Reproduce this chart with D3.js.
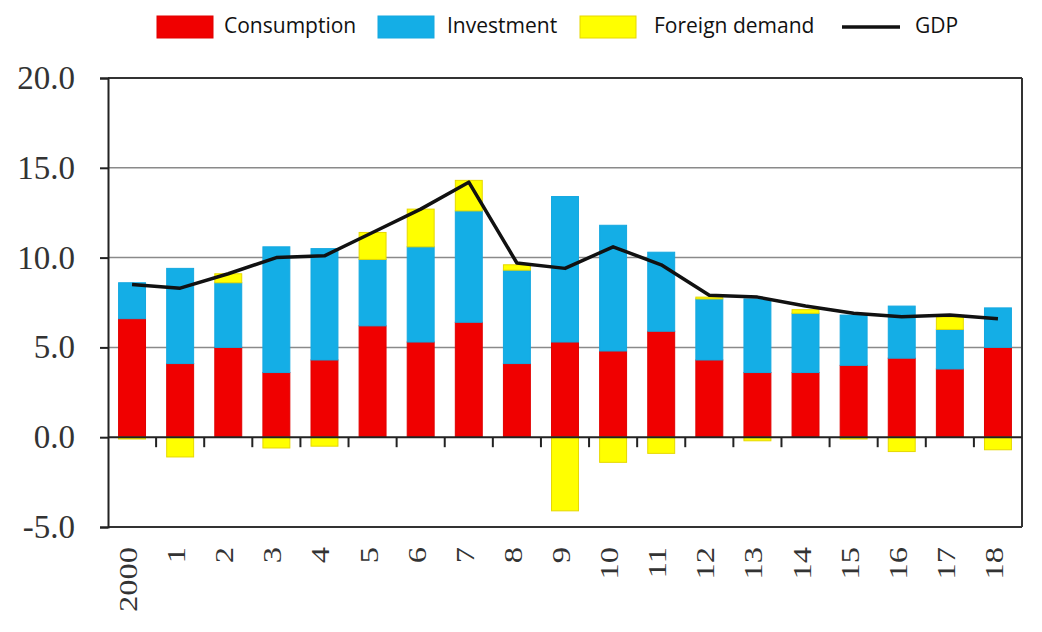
<!DOCTYPE html>
<html><head><meta charset="utf-8">
<script src="https://cdn.jsdelivr.net/npm/d3@7"></script>
<style>html,body{margin:0;padding:0;background:#fff;}svg{display:block;}</style>
</head><body>
<svg id="chart" width="1042" height="632"></svg>
<script>
const categories = ["2000","1","2","3","4","5","6","7","8","9","10","11","12","13","14","15","16","17","18"];
const consumption = [6.6,4.1,5.0,3.6,4.3,6.2,5.3,6.4,4.1,5.3,4.8,5.9,4.3,3.6,3.6,4.0,4.4,3.8,5.0];
const investment  = [2.0,5.3,3.6,7.0,6.2,3.7,5.3,6.2,5.2,8.1,7.0,4.4,3.4,4.1,3.3,2.8,2.9,2.2,2.2];
const foreign     = [-0.1,-1.1,0.5,-0.6,-0.5,1.5,2.1,1.7,0.3,-4.1,-1.4,-0.9,0.1,-0.2,0.2,-0.1,-0.8,0.7,-0.7];
const gdp         = [8.5,8.3,9.1,10.0,10.1,11.4,12.7,14.2,9.7,9.4,10.6,9.6,7.9,7.8,7.3,6.9,6.7,6.8,6.6];
const yTicks = [-5,0,5,10,15,20];
const seriesNames = ["Consumption","Investment","Foreign demand"];
const colors = {"Consumption":"#f00000","Investment":"#14aee6","Foreign demand":"#ffff00"};
const strokes = {"Consumption":"#e00000","Investment":"#14a8e0","Foreign demand":"#e6d800"};

const svg = d3.select("#chart");
const L = 108, R = 1022, T = 78, B = 527;
const x = d3.scaleBand().domain(categories).range([L, R]).paddingInner(0.44).paddingOuter(0.22);
const xb = d3.scaleBand().domain(categories).range([L, R]);
const y = d3.scaleLinear().domain([-5, 20]).range([B, T]);

// grid
svg.append("g").selectAll("line").data(yTicks.filter(t => t > 0 && t < 20)).join("line")
  .attr("x1", L).attr("x2", R).attr("y1", d => y(d)).attr("y2", d => y(d))
  .attr("stroke", "#8a8a8a").attr("stroke-width", 1.5);

const rows = categories.map((c, i) => ({cat: c, "Consumption": consumption[i], "Investment": investment[i], "Foreign demand": foreign[i]}));
const stacked = d3.stack().keys(seriesNames).offset(d3.stackOffsetDiverging)(rows);

svg.append("g").selectAll("g").data(stacked).join("g")
  .attr("fill", d => colors[d.key]).attr("stroke", d => strokes[d.key]).attr("stroke-width", 1)
  .selectAll("rect").data(d => d).join("rect")
  .attr("x", d => x(d.data.cat)).attr("width", x.bandwidth())
  .attr("y", d => y(Math.max(d[0], d[1])))
  .attr("height", d => Math.abs(y(d[0]) - y(d[1])));

// GDP line
const line = d3.line().x((d, i) => x(categories[i]) + x.bandwidth() / 2).y(d => y(d));
svg.append("path").datum(gdp).attr("d", line).attr("fill", "none")
  .attr("stroke", "#111").attr("stroke-width", 3.5).attr("stroke-linejoin", "round");

// frame
svg.append("line").attr("x1", L).attr("x2", R).attr("y1", T).attr("y2", T).attr("stroke", "#333").attr("stroke-width", 2);
svg.append("line").attr("x1", R).attr("x2", R).attr("y1", T).attr("y2", B).attr("stroke", "#333").attr("stroke-width", 2);
svg.append("line").attr("x1", L).attr("x2", R).attr("y1", B).attr("y2", B).attr("stroke", "#333").attr("stroke-width", 2);

// y axis
const yAxis = svg.append("g").attr("transform", `translate(${L},0)`)
  .call(d3.axisLeft(y).tickValues(yTicks).tickFormat(d => d.toFixed(1)).tickSize(8).tickPadding(25));
yAxis.select(".domain").attr("stroke", "#222").attr("stroke-width", 2);
yAxis.selectAll(".tick line").attr("stroke", "#222").attr("stroke-width", 2);
yAxis.selectAll("text").attr("font-family", "'Liberation Serif','DejaVu Serif',serif").attr("font-size", 33).attr("fill", "#333");

// zero axis with ticks at band boundaries
svg.append("line").attr("x1", L).attr("x2", R).attr("y1", y(0)).attr("y2", y(0)).attr("stroke", "#222").attr("stroke-width", 2);
svg.append("g").selectAll("line").data(categories.slice(1)).join("line")
  .attr("x1", d => xb(d)).attr("x2", d => xb(d)).attr("y1", y(0)).attr("y2", y(0) + 10)
  .attr("stroke", "#222").attr("stroke-width", 2);

// x labels
svg.append("g").selectAll("text").data(categories).join("text")
  .attr("transform", d => `translate(${x(d) + x.bandwidth() / 2 + 5},${B + 20}) rotate(-90) scale(1.3,1)`)
  .attr("text-anchor", "end")
  .attr("font-family", "'Liberation Serif','DejaVu Serif',serif").attr("font-size", 25).attr("fill", "#333")
  .text(d => d);

// legend
const legend = svg.append("g").attr("font-family", "'Open Sans','Liberation Sans',sans-serif").attr("font-size", 21).attr("fill", "#111");
const legItems = [
  {name: "Consumption", sx: 157, tx: 224},
  {name: "Investment", sx: 378, tx: 447},
  {name: "Foreign demand", sx: 580, tx: 654}
];
legItems.forEach(it => {
  legend.append("rect").attr("x", it.sx).attr("y", 16).attr("width", 56).attr("height", 22)
    .attr("fill", colors[it.name]).attr("stroke", strokes[it.name]);
  legend.append("text").attr("x", it.tx).attr("y", 33).text(it.name);
});
legend.append("line").attr("x1", 842).attr("x2", 900).attr("y1", 27).attr("y2", 27).attr("stroke", "#111").attr("stroke-width", 3.5);
legend.append("text").attr("x", 915).attr("y", 33).text("GDP");
</script>
</body></html>
